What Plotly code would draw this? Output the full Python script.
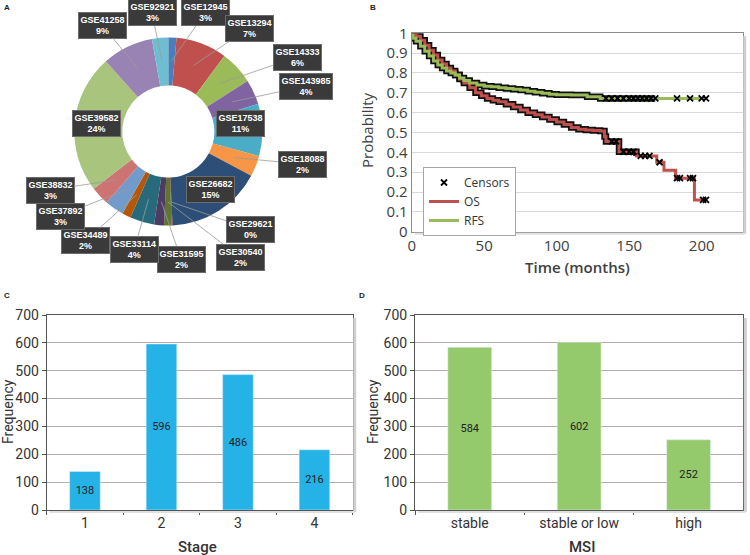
import math
import plotly.graph_objects as go

W, H = 750, 555

# ---------------- Panel A : donut ----------------
datasets = ["GSE12945", "GSE13294", "GSE14333", "GSE143985", "GSE17538", "GSE18088",
            "GSE26682", "GSE29621", "GSE30540", "GSE31595", "GSE33114", "GSE34489",
            "GSE37892", "GSE38832", "GSE39582", "GSE41258", "GSE92921"]
shares = [1.4, 8.8, 5.8, 4.3, 9.0, 3.6, 16.5, 0.15, 1.3, 1.7, 4.2, 1.5, 3.3, 3.2, 23.9, 8.8, 2.8]
pct_labels = ["3%", "7%", "6%", "4%", "11%", "2%", "15%", "0%", "2%", "2%", "4%", "2%",
              "3%", "3%", "24%", "9%", "3%"]
pie_colors = ["#4a7ebb", "#c0504d", "#9bbb59", "#7f64a1", "#4bacc6", "#f79646", "#2d4e76",
              "#772c2a", "#5f7530", "#4d3b62", "#276a7c", "#b65708", "#729aca", "#cd7371",
              "#a8c47d", "#9983b5", "#6fbdd1"]

# ---------------- Panel B : survival ----------------
os_t = [0, 3, 6, 9, 12, 15, 18, 21, 24, 27, 30, 33, 36, 40, 44, 48, 52, 56, 60, 65, 70, 75,
        80, 85, 90, 95, 100, 105, 110, 115, 120, 125, 130, 133, 134, 143, 155, 169, 174, 182,
        195, 203]
os_p = [1.0, 0.985, 0.965, 0.94, 0.915, 0.89, 0.865, 0.845, 0.825, 0.81, 0.79, 0.77, 0.75,
        0.725, 0.70, 0.685, 0.672, 0.663, 0.655, 0.643, 0.628, 0.613, 0.60, 0.59, 0.578, 0.565,
        0.553, 0.54, 0.525, 0.517, 0.513, 0.51, 0.507, 0.48, 0.455, 0.403, 0.382, 0.35, 0.31,
        0.27, 0.16, 0.16]
rfs_t = [0, 1, 3, 6, 9, 12, 15, 18, 21, 24, 27, 30, 33, 36, 40, 45, 50, 55, 60, 65, 70, 75,
         80, 85, 90, 95, 100, 110, 118, 121, 130, 203]
rfs_p = [0.99, 0.975, 0.96, 0.935, 0.91, 0.885, 0.86, 0.84, 0.825, 0.81, 0.80, 0.79, 0.775,
         0.762, 0.75, 0.74, 0.733, 0.73, 0.725, 0.722, 0.718, 0.714, 0.708, 0.703, 0.698, 0.693,
         0.69, 0.689, 0.689, 0.68, 0.672, 0.672]
os_censor_t = [138, 141, 146, 150, 153, 158, 161, 164, 171, 183, 185, 192, 194, 201, 203]
rfs_censor_t = [134, 138, 142, 146, 150, 153, 156, 159, 162, 165, 168, 183, 192, 200, 203]

# ---------------- Panel C / D : bars ----------------
stages = ["1", "2", "3", "4"]
stage_freq = [138, 596, 486, 216]
msi_cats = ["stable", "stable or low", "high"]
msi_freq = [584, 602, 252]


def step_at(ts, ps, t):
    v = ps[0]
    for ti, pi in zip(ts, ps):
        if ti <= t:
            v = pi
    return v


def px(x):
    return x / W


def py(y):
    return 1 - y / H


fig = go.Figure()

# ---- donut geometry (layout)
cx, cy, R = 168.3, 131.5, 94.0
fig.add_trace(go.Pie(
    labels=datasets, values=shares, sort=False, direction="clockwise", rotation=0,
    hole=0.49, textinfo="none", hoverinfo="label+percent", showlegend=False,
    marker=dict(colors=pie_colors, line=dict(width=0)),
    domain=dict(x=[px(cx - R), px(cx + R)], y=[py(cy + R), py(cy - R)]),
))

# label boxes (pixel centres)
box_pos = {
    "GSE12945": (205, 13), "GSE13294": (249, 28), "GSE14333": (297, 57),
    "GSE143985": (306, 86), "GSE17538": (240, 124), "GSE18088": (302, 164),
    "GSE26682": (210, 189), "GSE29621": (250, 229), "GSE30540": (240, 257),
    "GSE31595": (181, 259), "GSE33114": (134, 250), "GSE34489": (85, 241),
    "GSE37892": (60, 216), "GSE38832": (50, 190), "GSE39582": (96, 124),
    "GSE41258": (102, 25), "GSE92921": (152, 13),
}
inside = {"GSE17538", "GSE26682", "GSE39582"}
total = sum(shares)
cum = 0.0
annotations = []
for name, val, pct in zip(datasets, shares, pct_labels):
    mid = (cum + val / 2) / total * 2 * math.pi
    cum += val
    bx, by = box_pos[name]
    txt = f"{name}<br>{pct}"
    common = dict(text=txt, xref="paper", yref="paper", bgcolor="#3a3a3a",
                  bordercolor="#6b6b6b", borderwidth=1, borderpad=1.5,
                  font=dict(family="Liberation Sans Narrow, Liberation Sans, Arial", size=9,
                            color="white", weight="bold"))
    if name in inside:
        annotations.append(dict(x=px(bx), y=py(by), showarrow=False, xanchor="center",
                                yanchor="middle", **common))
    else:
        tx = cx + 0.75 * R * math.sin(mid)
        ty = cy - 0.75 * R * math.cos(mid)
        annotations.append(dict(x=px(tx), y=py(ty), ax=bx - tx, ay=by - ty, showarrow=True,
                                arrowhead=0, arrowwidth=0.8, arrowcolor="#9a9a9a", **common))

# ---- Panel B traces
os_black_t = [t for t in os_t if t <= 160]
os_black_p = os_p[:len(os_black_t)]
rfs_black_t = [t for t in rfs_t if t <= 170]
rfs_black_p = rfs_p[:len(rfs_black_t)]
if rfs_black_t[-1] < 168:
    rfs_black_t.append(168)
    rfs_black_p.append(step_at(rfs_t, rfs_p, 168))

for bt, bp in ((rfs_black_t, rfs_black_p), (os_black_t, os_black_p)):
    fig.add_trace(go.Scatter(x=bt, y=bp, mode="lines", line=dict(color="#111111", width=6.5,
                             shape="hv"), showlegend=False, hoverinfo="skip",
                             xaxis="x2", yaxis="y2"))

fig.add_trace(go.Scatter(x=os_t, y=os_p, mode="lines", name="OS",
                         line=dict(color="#c0504d", width=3, shape="hv"),
                         xaxis="x2", yaxis="y2", legendrank=2))
fig.add_trace(go.Scatter(x=rfs_t, y=rfs_p, mode="lines", name="RFS",
                         line=dict(color="#9bbb59", width=3, shape="hv"),
                         xaxis="x2", yaxis="y2", legendrank=3))
cens_x = os_censor_t + rfs_censor_t
cens_y = [step_at(os_t, os_p, t) for t in os_censor_t] + [step_at(rfs_t, rfs_p, t) for t in rfs_censor_t]
fig.add_trace(go.Scatter(x=cens_x, y=cens_y, mode="markers", name="Censors",
                         marker=dict(symbol="x-thin", size=6, color="black",
                                     line=dict(width=1.8, color="black")),
                         xaxis="x2", yaxis="y2", legendrank=1))

# ---- Panel C / D traces
fig.add_trace(go.Bar(x=stages, y=stage_freq, marker_color="#25b2e7", text=stage_freq,
                     texttemplate="%{y}", textposition="inside", insidetextanchor="middle",
                     textfont=dict(family="Roboto", size=11, color="#222222"),
                     showlegend=False, xaxis="x3", yaxis="y3"))
fig.add_trace(go.Bar(x=msi_cats, y=msi_freq, marker_color="#94ca6b", text=msi_freq,
                     texttemplate="%{y}", textposition="inside", insidetextanchor="middle",
                     textfont=dict(family="Roboto", size=11, color="#222222"),
                     showlegend=False, xaxis="x4", yaxis="y4"))

# ---- axes
bx0, bx1, by0, by1 = 411.7, 742.7, 33.3, 231.7
cx0, cx1, cy0, cy1 = 46.7, 352.7, 315.0, 510.0
dx0, dx1 = 415.0, 743.3
tickfontB = dict(family="Open Sans", size=15, color="#404040")
tickfontCD = dict(family="Roboto", size=14, color="#333333")

fig.update_layout(
    width=W, height=H, autosize=False,
    margin=dict(l=0, r=0, t=0, b=0, pad=0),
    paper_bgcolor="white", plot_bgcolor="white",
    bargap=0.6,
    xaxis2=dict(domain=[px(bx0), px(bx1)], anchor="y2", range=[0, 228.3], tick0=0, dtick=50,
                showgrid=False, showline=True, linecolor="#8c8c8c", mirror=True, zeroline=False,
                tickfont=tickfontB, ticks="", automargin=False),
    yaxis2=dict(domain=[py(by1), py(by0)], anchor="x2", range=[0, 1], dtick=0.1,
                showgrid=True, gridcolor="#d9d9d9", showline=True, linecolor="#8c8c8c",
                mirror=True, zeroline=False, tickfont=tickfontB, ticks="", automargin=False),
    xaxis3=dict(domain=[px(cx0), px(cx1)], anchor="y3", type="category", showgrid=False,
                showline=True, linecolor="#555555", mirror=True, ticks="outside",
                tickson="boundaries", ticklen=4, tickcolor="#555555", tickfont=tickfontCD,
                automargin=False),
    yaxis3=dict(domain=[py(cy1), py(cy0)], anchor="x3", range=[0, 700], dtick=100,
                showgrid=True, gridcolor="#b8aba9", showline=True, linecolor="#555555",
                mirror=True, zeroline=False, ticks="outside", ticklen=4, tickcolor="#555555",
                tickfont=tickfontCD, automargin=False),
    xaxis4=dict(domain=[px(dx0), px(dx1)], anchor="y4", type="category", showgrid=False,
                showline=True, linecolor="#555555", mirror=True, ticks="outside",
                tickson="boundaries", ticklen=4, tickcolor="#555555", tickfont=tickfontCD,
                automargin=False),
    yaxis4=dict(domain=[py(cy1), py(cy0)], anchor="x4", range=[0, 700], dtick=100,
                showgrid=True, gridcolor="#b8aba9", showline=True, linecolor="#555555",
                mirror=True, zeroline=False, ticks="outside", ticklen=4, tickcolor="#555555",
                tickfont=tickfontCD, automargin=False),
    legend=dict(x=px(423), y=py(167), xanchor="left", yanchor="top", bgcolor="white",
                bordercolor="#a6a6a6", borderwidth=1, traceorder="normal",
                font=dict(family="Open Sans", size=12, color="#333333"),
                itemwidth=30, tracegroupgap=0),
)

# shadows on frames (layout decoration)
shapes = []
for (x0, x1, y0, y1) in ((bx0, bx1, by0, by1), (cx0, cx1, cy0, cy1), (dx0, dx1, cy0, cy1)):
    shapes.append(dict(type="line", xref="paper", yref="paper", x0=px(x1 + 2), x1=px(x1 + 2),
                       y0=py(y1 + 2), y1=py(y0 + 3), line=dict(color="#cfcfcf", width=3)))
    shapes.append(dict(type="line", xref="paper", yref="paper", x0=px(x0 + 3), x1=px(x1 + 2),
                       y0=py(y1 + 2), y1=py(y1 + 2), line=dict(color="#e0e0e0", width=2)))
# legend shadow
shapes.append(dict(type="rect", xref="paper", yref="paper", x0=px(425), x1=px(507),
                   y0=py(223), y1=py(169), fillcolor="#d0d0d0", line=dict(width=0),
                   layer="below"))
fig.update_layout(shapes=shapes)

# axis titles & panel letters
title_annots = [
    dict(text="Probability", x=px(367), y=py(130), textangle=-90,
         font=dict(family="Open Sans", size=15, color="#404040")),
    dict(text="Time (months)", x=px(577), y=py(267),
         font=dict(family="Open Sans", size=15, color="#404040", weight=600)),
    dict(text="Frequency", x=px(8), y=py(412), textangle=-90,
         font=dict(family="Roboto", size=14, color="#333333")),
    dict(text="Frequency", x=px(373), y=py(412), textangle=-90,
         font=dict(family="Roboto", size=14, color="#333333")),
    dict(text="Stage", x=px(197), y=py(547),
         font=dict(family="Roboto", size=15, color="#333333", weight=500)),
    dict(text="MSI", x=px(582), y=py(547),
         font=dict(family="Roboto", size=15, color="#333333", weight=500)),
    dict(text="A", x=px(7), y=py(8), font=dict(family="Arial", size=8, color="#222", weight="bold")),
    dict(text="B", x=px(373), y=py(8), font=dict(family="Arial", size=8, color="#222", weight="bold")),
    dict(text="C", x=px(7), y=py(295), font=dict(family="Arial", size=8, color="#222", weight="bold")),
    dict(text="D", x=px(362), y=py(295), font=dict(family="Arial", size=8, color="#222", weight="bold")),
]
for a in title_annots:
    a.update(xref="paper", yref="paper", showarrow=False, xanchor="center", yanchor="middle")
fig.update_layout(annotations=annotations + title_annots)

fig.write_html("out.html", config={"displayModeBar": False},
               post_script="document.body.style.margin='0px';document.body.style.overflow='hidden';")
